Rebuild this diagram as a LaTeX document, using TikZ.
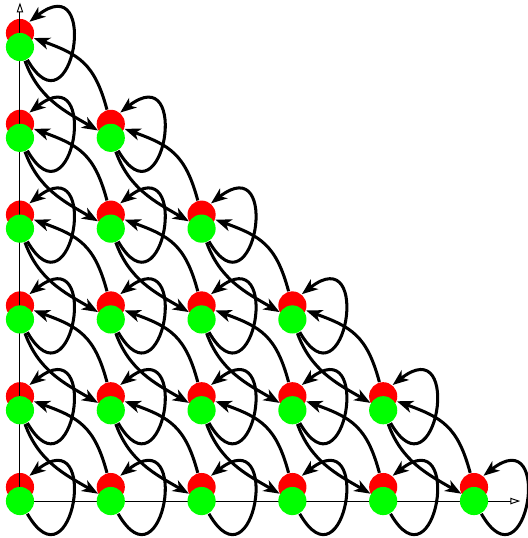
\documentclass[tikz,border=0pt]{standalone}
\usetikzlibrary{arrows.meta}
\begin{document}
\begin{tikzpicture}[
  redball/.style={circle,fill=red,inner sep=0pt,minimum size=0.31cm},
  greenball/.style={circle,fill=green,inner sep=0pt,minimum size=0.31cm},
  axisline/.style={line width=0.3pt,-{Triangle[open,length=3.1pt,width=2pt]}},
  flow/.style={line width=0.95pt,-{Stealth[length=5pt,width=3.8pt,inset=1.4pt]}}
]
  \useasboundingbox (-0.22,-0.407) rectangle (5.584,5.518);

  % Red states
  \foreach \i in {0,...,5} {
    \pgfmathtruncatemacro{\jmax}{5-\i}
    \foreach \j in {0,...,\jmax}
      \node[redball] (r-\i-\j) at (\i,\j+0.154) {};
  }

  % Axes
  \draw[axisline] (0,0) -- (0,5.49);
  \draw[axisline] (0,0) -- (5.51,0);

  % Green states
  \foreach \i in {0,...,5} {
    \pgfmathtruncatemacro{\jmax}{5-\i}
    \foreach \j in {0,...,\jmax}
      \node[greenball] (g-\i-\j) at (\i,\j) {};
  }

  % Self loops
  \foreach \i in {0,...,5} {
    \pgfmathtruncatemacro{\jmax}{5-\i}
    \foreach \j in {0,...,\jmax}
      \draw[flow] (g-\i-\j.-60) .. controls +(-60:1) and +(38:1) .. (r-\i-\j.50);
  }

  % Diagonal transitions
  \foreach \i in {0,...,4} {
    \pgfmathtruncatemacro{\jmax}{5-\i}
    \pgfmathtruncatemacro{\k}{\i+1}
    \foreach \j in {1,...,\jmax} {
      \pgfmathtruncatemacro{\m}{\j-1}
      \draw[flow] (g-\i-\j) to[out=-70,in=150] (g-\k-\m);
      \draw[flow] (r-\k-\m) to[out=105,in=-20,looseness=1.2] (r-\i-\j);
    }
  }
\end{tikzpicture}
\end{document}
